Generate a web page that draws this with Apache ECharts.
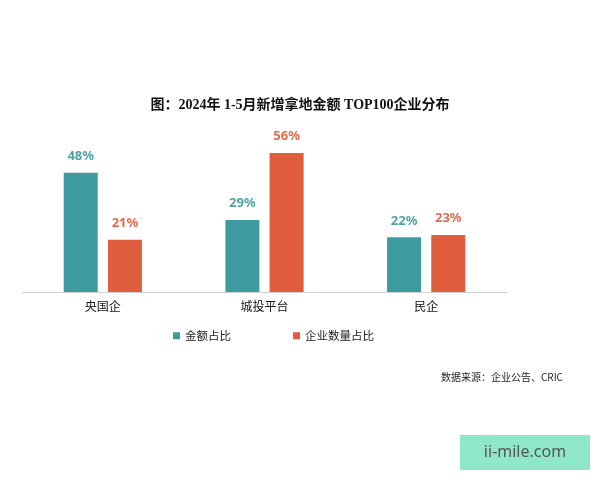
<!DOCTYPE html>
<html><head><meta charset="utf-8">
<script src="https://cdn.jsdelivr.net/npm/echarts@6/dist/echarts.min.js"></script>
<style>html,body{margin:0;padding:0;background:#fff}#c{width:600px;height:480px}</style>
</head><body><div id="c"></div>
<script>
const categories = ['央国企', '城投平台', '民企'];
const amountShare = [48, 29, 22];
const countShare = [21, 56, 23];
const seriesNames = ['金额占比', '企业数量占比'];

const chart = echarts.init(document.getElementById('c'));
chart.setOption({
  backgroundColor: '#fff',
  animation: false,
  title: {
    text: '图：2024年 1-5月新增拿地金额 TOP100企业分布',
    left: 'center', top: 93,
    textStyle: { fontSize: 14, fontWeight: 'bold', color: '#111', fontFamily: 'Liberation Serif, Noto Sans CJK SC' }
  },
  legend: {
    data: seriesNames, top: 325, left: 168, itemWidth: 7, itemHeight: 7, itemGap: 62,
    icon: 'rect',
    textStyle: { fontSize: 11.5, color: '#222', fontFamily: 'Noto Sans CJK SC' }
  },
  grid: { left: 22, right: 93, top: 143, bottom: 188 },
  xAxis: {
    type: 'category', data: categories,
    axisLine: { lineStyle: { color: '#d0d0d0' } },
    axisTick: { show: false },
    axisLabel: { fontSize: 12, color: '#111', margin: 8, fontFamily: 'Noto Sans CJK SC' }
  },
  yAxis: { type: 'value', min: 0, max: 60, show: false, splitLine: { show: false } },
  series: [
    { name: seriesNames[0], type: 'bar', data: amountShare, barWidth: 34, barGap: '30%',
      itemStyle: { color: '#3e9ba2' },
      label: { show: true, position: 'top', distance: 10, formatter: '{c}%', fontSize: 13, fontWeight: 'bold', color: '#4fa1a7', fontFamily: 'Noto Sans' } },
    { name: seriesNames[1], type: 'bar', data: countShare, barWidth: 34,
      itemStyle: { color: '#e05d3d' },
      label: { show: true, position: 'top', distance: 10, formatter: '{c}%', fontSize: 13, fontWeight: 'bold', color: '#e06d4f', fontFamily: 'Noto Sans' } }
  ],
  graphic: [
    { type: 'text', right: 37, top: 372, style: { text: '数据来源：企业公告、CRIC', fontSize: 10, fill: '#222', fontFamily: 'Noto Sans CJK SC' } },
    { type: 'rect', shape: { x: 460, y: 435, width: 130, height: 35 }, style: { fill: '#8ee7c7' } },
    { type: 'text', x: 525, y: 452, style: { text: 'ii-mile.com', fontSize: 16, fill: '#555', align: 'center', verticalAlign: 'middle', fontFamily: 'Noto Sans' } }
  ]
});
</script></body></html>
